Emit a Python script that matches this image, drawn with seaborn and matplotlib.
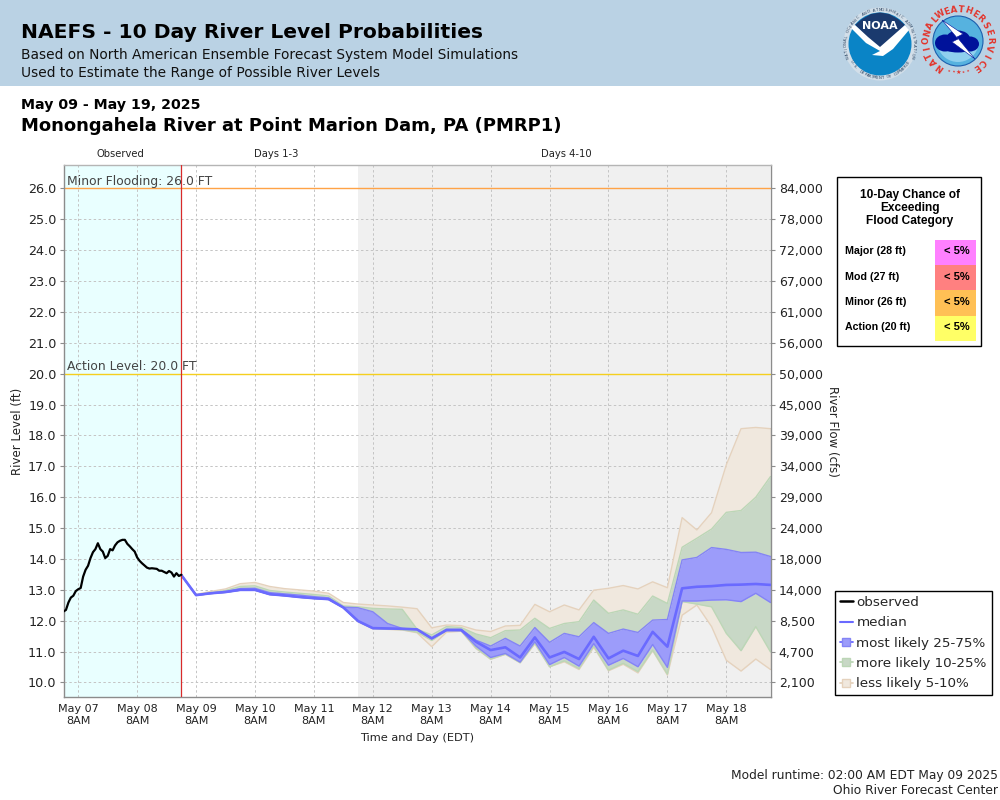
import numpy as np
import pandas as pd
import matplotlib
matplotlib.use('Agg')
import matplotlib.pyplot as plt
import seaborn as sns
from matplotlib.lines import Line2D
from matplotlib.patches import Circle, Ellipse, Polygon, Rectangle, Wedge

# observed stage, hourly from May 07 02:00
observed = [12.30, 12.35, 12.59, 12.75, 12.81, 12.96, 13.02, 13.06, 13.43, 13.65, 13.78, 14.03, 14.22,
            14.32, 14.51, 14.32, 14.24, 14.03, 14.10, 14.32, 14.28, 14.44, 14.54, 14.59, 14.62, 14.62,
            14.49, 14.41, 14.32, 14.24, 14.05, 13.94, 13.86, 13.79, 13.72, 13.69, 13.70, 13.69, 13.68,
            13.62, 13.62, 13.58, 13.54, 13.61, 13.56, 13.43, 13.54, 13.45, 13.49]

# forecast percentiles, 6-hourly from May 09 02:00
p95 = [13.48, 12.85, 12.95, 13.03, 13.20, 13.24, 13.11, 13.04, 13.00, 12.96, 12.89, 12.59, 12.54, 12.51,
       12.48, 12.44, 12.39, 11.77, 11.86, 11.84, 11.70, 11.65, 11.83, 11.85, 12.53, 12.29, 12.51, 12.35,
       12.99, 13.05, 13.14, 13.03, 13.26, 13.07, 15.34, 14.94, 15.50, 17.05, 18.22, 18.26, 18.22]
p90 = [13.48, 12.84, 12.91, 12.98, 13.11, 13.13, 12.98, 12.93, 12.89, 12.85, 12.80, 12.48, 12.45, 12.40,
       12.38, 12.37, 11.73, 11.54, 11.81, 11.78, 11.57, 11.45, 11.68, 11.70, 12.08, 11.75, 11.91, 11.97,
       12.67, 12.24, 12.35, 12.21, 12.80, 12.56, 14.38, 14.67, 14.97, 15.51, 15.57, 16.00, 16.67]
p75 = [13.48, 12.84, 12.90, 12.95, 13.04, 13.05, 12.91, 12.87, 12.83, 12.78, 12.74, 12.44, 12.42, 12.29,
       11.91, 11.75, 11.72, 11.43, 11.72, 11.72, 11.37, 11.18, 11.43, 11.18, 11.78, 11.30, 11.59, 11.48,
       11.94, 11.59, 11.73, 11.62, 12.02, 12.04, 13.97, 14.05, 14.37, 14.31, 14.21, 14.22, 14.08]
median = [13.48, 12.83, 12.89, 12.93, 13.00, 13.00, 12.86, 12.82, 12.77, 12.73, 12.70, 12.43, 11.99, 11.76,
          11.75, 11.74, 11.72, 11.43, 11.70, 11.70, 11.32, 11.05, 11.14, 10.81, 11.46, 10.81, 10.99, 10.76,
          11.48, 10.78, 11.03, 10.86, 11.64, 11.16, 13.05, 13.10, 13.12, 13.16, 13.17, 13.19, 13.16]
p25 = [13.48, 12.82, 12.88, 12.92, 12.99, 12.99, 12.85, 12.81, 12.76, 12.72, 12.69, 12.42, 11.98, 11.75,
       11.74, 11.73, 11.71, 11.41, 11.68, 11.68, 11.18, 10.81, 10.94, 10.66, 11.32, 10.58, 10.81, 10.53,
       11.26, 10.56, 10.78, 10.51, 11.23, 10.49, 12.64, 12.64, 12.67, 12.68, 12.62, 12.89, 12.59]
p10 = [13.48, 12.82, 12.88, 12.92, 12.99, 12.99, 12.85, 12.81, 12.76, 12.72, 12.69, 12.42, 11.98, 11.75,
       11.73, 11.71, 11.63, 11.36, 11.68, 11.68, 11.12, 10.76, 10.92, 10.64, 11.27, 10.51, 10.70, 10.45,
       11.18, 10.40, 10.62, 10.35, 11.05, 10.27, 12.62, 12.54, 12.45, 11.59, 11.03, 11.81, 10.99]
p05 = [13.48, 12.82, 12.88, 12.92, 12.99, 12.99, 12.85, 12.81, 12.76, 12.72, 12.69, 12.42, 11.97, 11.74,
       11.72, 11.70, 11.61, 11.16, 11.63, 11.66, 11.10, 10.75, 10.91, 10.64, 11.25, 10.51, 10.67, 10.42,
       11.14, 10.38, 10.59, 10.31, 11.03, 10.24, 12.18, 12.51, 11.81, 10.72, 10.37, 10.76, 10.42]

stage_ticks = [10 + i for i in range(17)]
flow_labels = ['2,100', '4,700', '8,500', '14,000', '18,000', '24,000', '29,000', '34,000', '39,000',
               '45,000', '50,000', '56,000', '61,000', '67,000', '72,000', '78,000', '84,000']
categories = ['Major (28 ft)', 'Mod (27 ft)', 'Minor (26 ft)', 'Action (20 ft)']
chances = ['< 5%', '< 5%', '< 5%', '< 5%']
cat_colors = ['#ff80ff', '#ff8080', '#ffc055', '#ffff66']

obs_df = pd.DataFrame({'time': pd.date_range('2025-05-07 02:00', periods=len(observed), freq='h'), 'stage': observed})
fc_df = pd.DataFrame({'time': pd.date_range('2025-05-09 02:00', periods=len(median), freq='6h'),
                      'p95': p95, 'p90': p90, 'p75': p75, 'median': median, 'p25': p25, 'p10': p10, 'p05': p05})

sns.set_style('whitegrid')
plt.rcParams['font.family'] = ['DejaVu Sans']

BLUE = '#6a6aff'
MOST, MOST_E = '#9c9cfa', '#8484f5'
MORE, MORE_E = '#c8d8c6', '#bcd6b6'
LESS, LESS_E = '#f0e8de', '#e5d2bd'
EDGE = '#8c8c8c'

fig = plt.figure(figsize=(10, 8), dpi=100, facecolor='white')
ax = fig.add_axes([63.5 / 1000, 1 - 697 / 800, 707 / 1000, 532 / 800])
ax.set_facecolor('white')

t0, t1 = pd.Timestamp('2025-05-07 02:00'), pd.Timestamp('2025-05-19 02:00')
ax.axvspan(t0, pd.Timestamp('2025-05-09 02:00'), color='#e9ffff', lw=0, zorder=0)
ax.axvspan(pd.Timestamp('2025-05-12 02:00'), t1, color='#f0f0f0', lw=0, zorder=0)

t = fc_df['time']
ax.fill_between(t, fc_df['p90'], fc_df['p95'], color=LESS, lw=0, zorder=1.1)
ax.fill_between(t, fc_df['p05'], fc_df['p10'], color=LESS, lw=0, zorder=1.1)
ax.fill_between(t, fc_df['p75'], fc_df['p90'], color=MORE, lw=0, zorder=1.2)
ax.fill_between(t, fc_df['p10'], fc_df['p25'], color=MORE, lw=0, zorder=1.2)
ax.fill_between(t, fc_df['p25'], fc_df['p75'], color=MOST, lw=0, zorder=1.3)

# band outlines, then the two main lines
for col, c, z in [('p95', LESS_E, 2.0), ('p05', LESS_E, 2.0), ('p90', MORE_E, 2.1), ('p10', MORE_E, 2.1),
                  ('p75', MOST_E, 2.2), ('p25', MOST_E, 2.2)]:
    sns.lineplot(data=fc_df, x='time', y=col, color=c, lw=1.0, ax=ax, zorder=z, errorbar=None)
sns.lineplot(data=fc_df, x='time', y='median', color=BLUE, lw=1.9, ax=ax, zorder=3, errorbar=None)
sns.lineplot(data=obs_df, x='time', y='stage', color='black', lw=1.6, ax=ax, zorder=4, errorbar=None)

ax.axvline(pd.Timestamp('2025-05-09 02:00'), color='#d92b2b', lw=0.9, zorder=3.5)
ax.axhline(26, color='#ffa347', lw=1.0, zorder=2.5)
ax.axhline(20, color='#f5cf1e', lw=1.0, zorder=2.5)
ax.text(pd.Timestamp('2025-05-07 03:30'), 26.02, 'Minor Flooding: 26.0 FT', fontsize=8.9, color='#444444', va='bottom', zorder=5)
ax.text(pd.Timestamp('2025-05-07 03:30'), 20.02, 'Action Level: 20.0 FT', fontsize=8.9, color='#444444', va='bottom', zorder=5)

ax.set_xlim(t0, t1)
ax.set_ylim(9.53, 26.76)
ax.set_yticks(stage_ticks)
ax.set_yticklabels([f'{v:.1f}' for v in stage_ticks], fontsize=9.2, color='#222222')
ticks = pd.date_range('2025-05-07 08:00', '2025-05-18 08:00', freq='D')
ax.set_xticks(ticks)
ax.set_xticklabels([d.strftime('%b %d') + '\n8AM' for d in ticks], fontsize=8, color='#222222', linespacing=1.25)
ax.grid(True, color='#c4c4c4', ls=(0, (2.5, 2.5)), lw=0.7)
for line in ax.get_xgridlines() + ax.get_ygridlines():
    line.set_zorder(0.5)
ax.tick_params(axis='both', length=3, width=0.8, color=EDGE, pad=2)
ax.set_xlabel('Time and Day (EDT)', fontsize=8.2, labelpad=5, color='#222222')
ax.set_ylabel('')
for s in ax.spines.values():
    s.set_color(EDGE)
    s.set_linewidth(1.0)
ax.spines['top'].set_color('#b5b5b5')

ax2 = ax.twinx()
ax2.set_ylim(ax.get_ylim())
ax2.set_yticks(stage_ticks)
ax2.set_yticklabels(flow_labels, fontsize=9, color='#222222')
ax2.grid(False)
ax2.tick_params(axis='y', length=3, width=0.8, color=EDGE, pad=3)
for s in ax2.spines.values():
    s.set_visible(False)

# legend
handles = [Line2D([], [], color='black', lw=1.8),
           Line2D([], [], color=BLUE, lw=1.5),
           Line2D([], [], color=BLUE, lw=1.3, marker='s', ms=5.5, mfc=MOST, mec=MOST_E),
           Line2D([], [], color=MORE_E, lw=1.3, marker='s', ms=5.5, mfc=MORE, mec=MORE_E),
           Line2D([], [], color=LESS_E, lw=1.3, marker='s', ms=5.5, mfc=LESS, mec=LESS_E)]
labels = ['observed', 'median', 'most likely 25-75%', 'more likely 10-25%', 'less likely 5-10%']
fig.legend(handles, labels, loc='upper left', bbox_to_anchor=(835 / 1000, 1 - 591 / 800), fontsize=9.7,
           frameon=True, fancybox=False, framealpha=1, edgecolor='black', borderaxespad=0, borderpad=0.36,
           handlelength=0.98, handletextpad=0.25, labelspacing=0.55).get_frame().set_linewidth(1)

# overlay in pixel coordinates for header, table and captions
ov = fig.add_axes([0, 0, 1, 1], zorder=10)
ov.set_xlim(0, 1000)
ov.set_ylim(800, 0)
ov.axis('off')
ov.patch.set_alpha(0)

ov.add_patch(Rectangle((0, 0), 1000, 85.5, color='#bad2e4', lw=0))
ov.text(21, 33, 'NAEFS - 10 Day River Level Probabilities', fontsize=14.6, fontweight='bold', color='black', va='center')
ov.text(21, 54.5, 'Based on North American Ensemble Forecast System Model Simulations', fontsize=9.95, color='#111111', va='center')
ov.text(21, 73, 'Used to Estimate the Range of Possible River Levels', fontsize=9.95, color='#111111', va='center')
ov.text(21, 105, 'May 09 - May 19, 2025', fontsize=10.2, fontweight='bold', color='black', va='center')
ov.text(21, 126, 'Monongahela River at Point Marion Dam, PA (PMRP1)', fontsize=13, fontweight='bold', color='black', va='center')

for x, s in [(120, 'Observed'), (276.5, 'Days 1-3'), (566, 'Days 4-10')]:
    ov.text(x, 154, s, fontsize=7.2, ha='center', va='center', color='#222222')
ov.text(18, 431, 'River Level (ft)', fontsize=8.5, rotation=90, ha='center', va='center', color='#222222')
ov.text(832, 431, 'River Flow (cfs)', fontsize=8.5, rotation=-90, ha='center', va='center', color='#222222')
ov.text(998, 775.5, 'Model runtime: 02:00 AM EDT May 09 2025', fontsize=8.8, ha='right', va='center', color='#222222')
ov.text(998, 791, 'Ohio River Forecast Center', fontsize=8.8, ha='right', va='center', color='#222222')

# flood category table
ov.add_patch(Rectangle((836.5, 176.5), 144, 169, fc='white', ec='black', lw=1))
for y, s in [(195, '10-Day Chance of'), (208, 'Exceeding'), (221, 'Flood Category')]:
    ov.text(910, y, s, fontsize=8.6, fontweight='bold', family='Liberation Sans', ha='center', va='center', color='black')
for i, (cat, pct, col) in enumerate(zip(categories, chances, cat_colors)):
    y = 240 + i * 25.2
    ov.add_patch(Rectangle((935, y), 41, 25.2, color=col, lw=0))
    ov.text(845, y + 11.5, cat, fontsize=7.7, fontweight='bold', family='Liberation Sans', va='center', color='black')
    ov.text(969.5, y + 11.5, pct, fontsize=8, fontweight='bold', family='Liberation Sans', ha='right', va='center', color='black')


def ring_text(cx, cy, r, s, start, end, flip=False, **kw):
    # one character at a time along an arc, angles in degrees clockwise from north
    for ch, a in zip(s, np.linspace(start, end, len(s))):
        rad = np.radians(a)
        ov.text(cx + r * np.sin(rad), cy - r * np.cos(rad), ch, rotation=-a + (180 if flip else 0), ha='center',
                va='center', rotation_mode='anchor', **kw)


# NOAA logo
cx, cy = 880, 44
ov.add_patch(Circle((cx, cy), 36.5, fc='#d3dfe9', lw=0))
ov.add_patch(Circle((cx, cy), 31.5, fc='#0a84c6', lw=0))
ov.add_patch(Polygon([(855, 25), (862, 19), (871, 14), (880, 12.5), (889, 14), (898, 19), (905, 25), (890, 42), (880, 48), (868, 38)], fc='#1b3a6e', lw=0))
ov.add_patch(Polygon([(850, 27), (855, 25), (868, 37), (880, 47), (905, 25), (909, 30), (893, 49), (883, 56), (872, 55), (880, 51), (866, 43)], fc='white', lw=0))
ov.text(cx, 26, 'NOAA', fontsize=8, fontweight='bold', color='white', ha='center', va='center')
ring_text(cx, cy, 34, 'NATIONAL OCEANIC AND ATMOSPHERIC ADMINISTRATION', -112, 112, fontsize=2.8, color='#26415f')
ring_text(cx, cy, 34, 'U.S. DEPARTMENT OF COMMERCE', 238, 122, flip=True, fontsize=2.8, color='#26415f')

# NWS logo
cx, cy = 958, 41
ov.add_patch(Circle((cx, cy), 25, fc='#56b2df', ec='#1c5fae', lw=0.8))
ov.add_patch(Wedge((cx, cy), 21, 20, 160, fc='#8fd0ee', lw=0))
for ex, ey, ew, eh in [(945, 43, 20, 17), (958, 39, 24, 17), (970, 44, 18, 15), (958, 47, 32, 11)]:
    ov.add_patch(Ellipse((ex, ey), ew, eh, fc='#00129a', lw=0))
ov.add_patch(Polygon([(942, 20), (963, 34), (957, 37), (975, 59), (952, 42), (958, 39)], fc='white', ec='#00129a', lw=0.4))
ring_text(cx, cy, 31.5, 'NATIONAL', -144, -47, fontsize=6.2, fontweight='bold', color='#e3342b')
ring_text(cx, cy, 31.5, 'WEATHER', -33, 45, fontsize=6.2, fontweight='bold', color='#e3342b')
ring_text(cx, cy, 31.5, 'SERVICE', 60, 145, fontsize=6.2, fontweight='bold', color='#e3342b')
ring_text(cx, cy, 31.5, '••★••', 198, 162, flip=True, fontsize=4.5, color='#e3342b')

fig.savefig('out.png', dpi=100)
